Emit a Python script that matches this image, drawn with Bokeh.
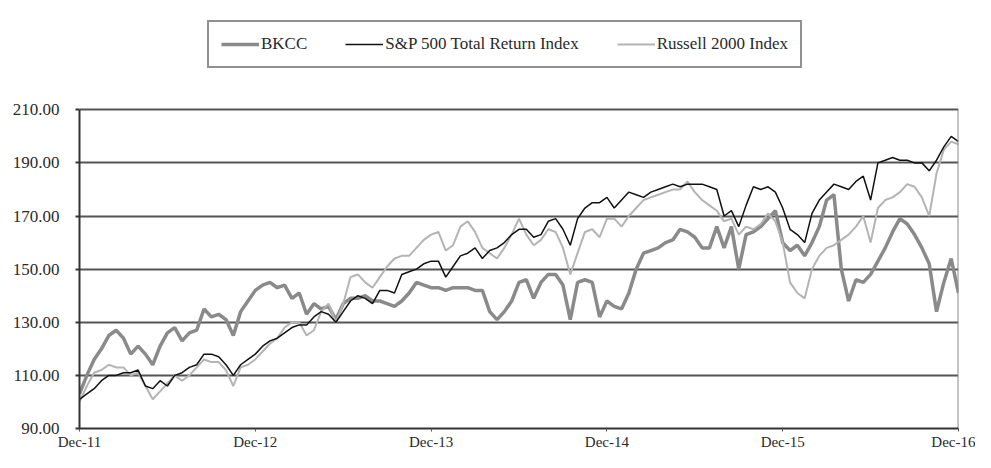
from bokeh.plotting import figure
from bokeh.models import Range1d, FixedTicker, Legend, LegendItem, NumeralTickFormatter
from bokeh.embed import file_html
from bokeh.resources import INLINE

# half-month periods since Dec-2011
periods = list(range(121))
tick_positions = [0, 24, 48, 72, 96, 120]
tick_labels = ["Dec-11", "Dec-12", "Dec-13", "Dec-14", "Dec-15", "Dec-16"]
y_ticks = [90, 110, 130, 150, 170, 190, 210]

bkcc = [103, 110, 116, 120, 125, 127, 124, 118, 121, 118,
        114, 121, 126, 128, 123, 126, 127, 135, 132, 133,
        131, 125, 134, 138, 142, 144, 145, 143, 144, 139,
        141, 133, 137, 135, 136, 131, 137, 139, 139, 140,
        138, 138, 137, 136, 138, 141, 145, 144, 143, 143,
        142, 143, 143, 143, 142, 142, 134, 131, 134, 138,
        145, 146, 139, 145, 148, 148, 144, 131, 145, 146,
        145, 132, 138, 136, 135, 141, 150, 156, 157, 158,
        160, 161, 165, 164, 162, 158, 158, 166, 158, 166,
        150, 163, 164, 166, 169, 172, 160, 157, 159, 155,
        160, 166, 176, 178, 150, 138, 146, 145, 148, 153,
        158, 164, 169, 167, 163, 158, 152, 134, 145, 154,
        141]

sp500 = [101, 103, 105, 108, 110, 110, 111, 111, 112, 106,
         105, 108, 106, 110, 111, 113, 114, 118, 118, 117,
         114, 110, 114, 116, 118, 121, 123, 124, 126, 128,
         129, 129, 132, 134, 133, 130, 134, 138, 140, 139,
         137, 142, 142, 141, 148, 149, 150, 152, 153, 153,
         147, 151, 155, 156, 158, 154, 157, 158, 160, 163,
         165, 165, 162, 163, 168, 169, 165, 159, 169, 173,
         175, 175, 177, 173, 176, 179, 178, 177, 179, 180,
         181, 182, 181, 182, 182, 182, 181, 180, 170, 172,
         166, 174, 181, 180, 181, 179, 173, 165, 163, 160,
         171, 176, 179, 182, 181, 180, 183, 185, 176, 190,
         191, 192, 191, 191, 190, 190, 187, 191, 196, 200,
         198]

russell = [100, 106, 111, 112, 114, 113, 113, 110, 111, 106,
           101, 104, 107, 110, 108, 110, 113, 116, 115, 115,
           112, 106, 113, 114, 116, 119, 122, 124, 128, 130,
           130, 125, 127, 134, 137, 130, 137, 147, 148, 145,
           143, 147, 151, 154, 155, 155, 158, 161, 163, 164,
           157, 159, 166, 168, 164, 158, 156, 154, 158, 163,
           169, 163, 159, 161, 165, 164, 158, 148, 156, 164,
           165, 162, 169, 169, 166, 170, 173, 176, 177, 178,
           179, 180, 180, 183, 179, 176, 174, 172, 168, 169,
           163, 166, 165, 167, 171, 168, 160, 145, 141, 139,
           150, 155, 158, 159, 161, 163, 166, 170, 160, 173,
           176, 177, 179, 182, 181, 177, 170, 186, 195, 198,
           197]

SERIF = "Liberation Serif"
Y_MIN, Y_MAX = y_ticks[0], y_ticks[-1]
X_MIN, X_MAX = tick_positions[0], tick_positions[-1]

# extra headroom above the plot area holds the legend
p = figure(width=975, height=452, output_backend="svg", toolbar_location=None,
           x_range=Range1d(X_MIN, X_MAX), y_range=Range1d(Y_MIN, Y_MAX + 40),
           min_border_left=79, min_border_right=17, min_border_top=3,
           min_border_bottom=22)
p.outline_line_color = None

r_bkcc = p.line(periods, bkcc, line_color="#8a8a8a", line_width=3.5)
r_rus = p.line(periods, russell, line_color="#b4b4b4", line_width=2)
r_sp = p.line(periods, sp500, line_color="#111111", line_width=1.5)

# right-hand border of the plot area
p.segment(x0=[X_MAX], y0=[Y_MIN], x1=[X_MAX], y1=[Y_MAX], line_color="#8a8a8a", line_width=2)

p.xaxis.ticker = FixedTicker(ticks=tick_positions)
p.xaxis.major_label_overrides = {t: l for t, l in zip(tick_positions, tick_labels)}
p.xaxis.minor_tick_line_color = None
p.xaxis.major_tick_in = 0
p.xaxis.major_tick_out = 3
p.xaxis.major_label_standoff = 2
p.xaxis.axis_line_color = "#333333"
p.xaxis.axis_line_width = 2
p.xaxis.major_tick_line_color = "#555555"
p.xaxis.major_label_text_font = SERIF
p.xaxis.major_label_text_font_size = "15px"
p.xaxis.major_label_text_color = "#2a2a2a"

p.yaxis.ticker = FixedTicker(ticks=y_ticks)
p.yaxis.bounds = (Y_MIN, Y_MAX)
p.yaxis.formatter = NumeralTickFormatter(format="0.00")
p.yaxis.minor_tick_line_color = None
p.yaxis.major_tick_in = 0
p.yaxis.major_tick_out = 4
p.yaxis.major_label_standoff = 16
p.yaxis.axis_line_color = "#333333"
p.yaxis.axis_line_width = 2
p.yaxis.major_tick_line_color = "#333333"
p.yaxis.major_tick_line_width = 2
p.yaxis.major_label_text_font = SERIF
p.yaxis.major_label_text_font_size = "17px"
p.yaxis.major_label_text_color = "#2a2a2a"

p.xgrid.grid_line_color = None
p.ygrid.ticker = FixedTicker(ticks=y_ticks[1:])
p.ygrid.grid_line_color = "#555555"
p.ygrid.grid_line_width = 2

legend = Legend(items=[LegendItem(label="BKCC", renderers=[r_bkcc]),
                       LegendItem(label="S&P 500 Total Return Index", renderers=[r_sp]),
                       LegendItem(label="Russell 2000 Index", renderers=[r_rus])],
                orientation="horizontal", location=(128, 360),
                border_line_color="#222222", border_line_width=2,
                background_fill_color="white", background_fill_alpha=1,
                padding=12, spacing=38, glyph_width=38, glyph_height=18,
                label_standoff=2, margin=0,
                label_text_font=SERIF, label_text_font_size="17px",
                label_text_color="#2a2a2a")
p.add_layout(legend, "center")

open("out.html", "w").write(file_html(p, INLINE))
